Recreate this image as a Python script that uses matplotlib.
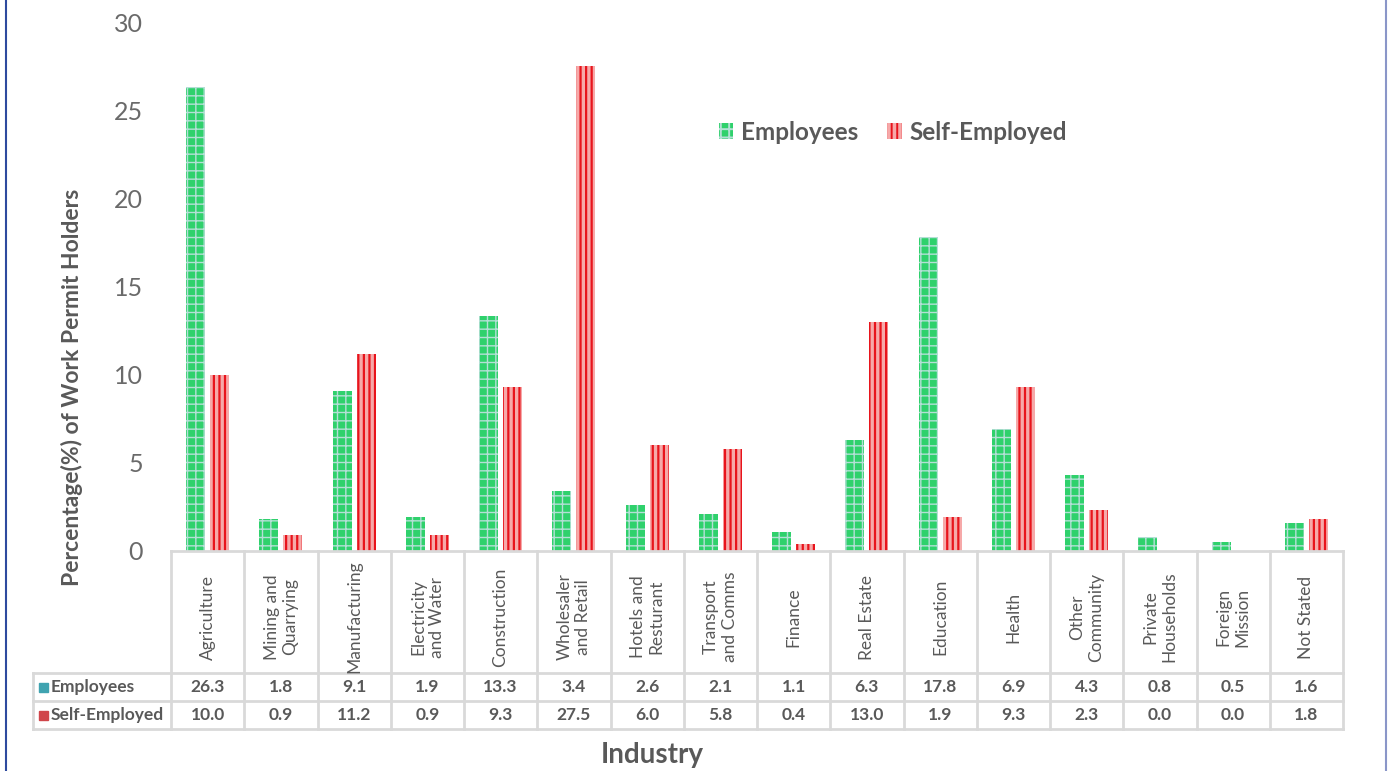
"""Work permit holders by industry: grouped bars with a data table underneath."""

import matplotlib.pyplot as plt
import matplotlib.transforms as mtransforms
import numpy as np
from matplotlib.lines import Line2D
from matplotlib.patches import Patch, Rectangle

plt.rcParams["font.family"] = ["Lato", "DejaVu Sans"]
plt.rcParams["hatch.linewidth"] = 1.4

industries = [
    "Agriculture", "Mining and\nQuarrying", "Manufacturing", "Electricity\nand Water",
    "Construction", "Wholesaler\nand Retail", "Hotels and\nResturant", "Transport\nand Comms",
    "Finance", "Real Estate", "Education", "Health", "Other\nCommunity",
    "Private\nHouseholds", "Foreign\nMission", "Not Stated",
]
employees = [26.3, 1.8, 9.1, 1.9, 13.3, 3.4, 2.6, 2.1, 1.1, 6.3, 17.8, 6.9, 4.3, 0.8, 0.5, 1.6]
self_employed = [10.0, 0.9, 11.2, 0.9, 9.3, 27.5, 6.0, 5.8, 0.4, 13.0, 1.9, 9.3, 2.3, 0.0, 0.0, 1.8]
series_names = ["Employees", "Self-Employed"]
y_ticks = [0, 5, 10, 15, 20, 25, 30]

TEXT = "#595959"
GRID = "#d9d9d9"
GREEN = "#2fd16c"
GREEN_HATCH = "#b4dfd6"
RED_BG = "#f6a9a9"
RED = "#e8141c"

W, H = 1389, 771
fig = plt.figure(figsize=(W / 100, H / 100), dpi=100)


def fx(px):
    return px / W


def fy(py):
    return 1 - py / H


ax = fig.add_axes([fx(171), fy(551), fx(1343) - fx(171), fy(22) - fy(551)])

x = np.arange(len(industries))
bw = 0.26
off = 0.165
bars_e = ax.bar(x - off, employees, bw, color=GREEN, edgecolor=GREEN_HATCH,
                hatch="++", linewidth=0)
bars_s = ax.bar(x + off, self_employed, bw, color=RED_BG, edgecolor=RED,
                hatch="|||", linewidth=0)
for p in bars_e:
    if hasattr(p, "set_hatch_linewidth"):
        p.set_hatch_linewidth(1.0)
for p in bars_s:
    if hasattr(p, "set_hatch_linewidth"):
        p.set_hatch_linewidth(1.6)

ax.set_xlim(-0.5, len(industries) - 0.5)
ax.set_ylim(0, 30)
ax.set_yticks(y_ticks)
ax.set_xticks([])
ax.tick_params(axis="y", length=0, pad=20, labelsize=18, labelcolor="#6a6a6a")
for s in ["top", "right", "left"]:
    ax.spines[s].set_visible(False)
ax.spines["bottom"].set_color(GRID)
ax.spines["bottom"].set_linewidth(2)

# data table under the chart
trans = mtransforms.blended_transform_factory(ax.transData, fig.transFigure)
for b in np.arange(len(industries) + 1) - 0.5:
    fig.add_artist(Line2D([b, b], [fy(551), fy(729)], color=GRID, lw=2,
                          transform=trans))
for row_y in [673, 701, 729]:
    fig.add_artist(Line2D([fx(33), fx(1343)], [fy(row_y), fy(row_y)], color=GRID, lw=2))
fig.add_artist(Line2D([fx(33), fx(33)], [fy(673), fy(729)], color=GRID, lw=2))

for i, name in enumerate(industries):
    fig.text(i, fy(617), name, transform=trans, rotation=90, ha="center", va="center",
             multialignment="center", fontsize=12.5, color=TEXT, linespacing=1.2)
    fig.text(i, fy(687), f"{employees[i]:.1f}", transform=trans, ha="center",
             va="center", fontsize=12.5, fontweight="bold", color=TEXT)
    fig.text(i, fy(715), f"{self_employed[i]:.1f}", transform=trans, ha="center",
             va="center", fontsize=12.5, fontweight="bold", color=TEXT)

for row_y, name, col in [(687, series_names[0], "#3fa3b0"), (715, series_names[1], "#d0454a")]:
    fig.add_artist(Rectangle((fx(39), fy(row_y + 4.5)), fx(9), 9 / H, color=col,
                             transform=fig.transFigure))
    fig.text(fx(51), fy(row_y), name, ha="left", va="center", fontsize=12.5,
             fontweight="bold", color=TEXT)

fig.text(fx(72), fy(387), "Percentage(%) of Work Permit Holders", rotation=90,
         ha="center", va="center", fontsize=16.5, fontweight="bold", color=TEXT)
fig.text(fx(652), fy(755), "Industry", ha="center", va="center", fontsize=20,
         fontweight="bold", color=TEXT)

handles = [
    Patch(facecolor=GREEN, edgecolor=GREEN_HATCH, hatch="++", linewidth=0),
    Patch(facecolor=RED_BG, edgecolor=RED, hatch="|||", linewidth=0),
]
leg = fig.legend(handles, series_names, loc="center left",
                 bbox_to_anchor=(fx(697), fy(132)), ncol=2, frameon=False,
                 handlelength=0.6, handleheight=0.6, handletextpad=0.3,
                 columnspacing=1.2, prop={"size": 17.5, "weight": "bold"})
for t in leg.get_texts():
    t.set_color(TEXT)

# page border
fig.add_artist(Line2D([fx(6), fx(6)], [0, 1], color="#2e4a9e", lw=1.5))
fig.add_artist(Line2D([fx(1386), fx(1386)], [0, 1], color="#8a96c8", lw=1.5))

fig.savefig("out.png", dpi=100)
